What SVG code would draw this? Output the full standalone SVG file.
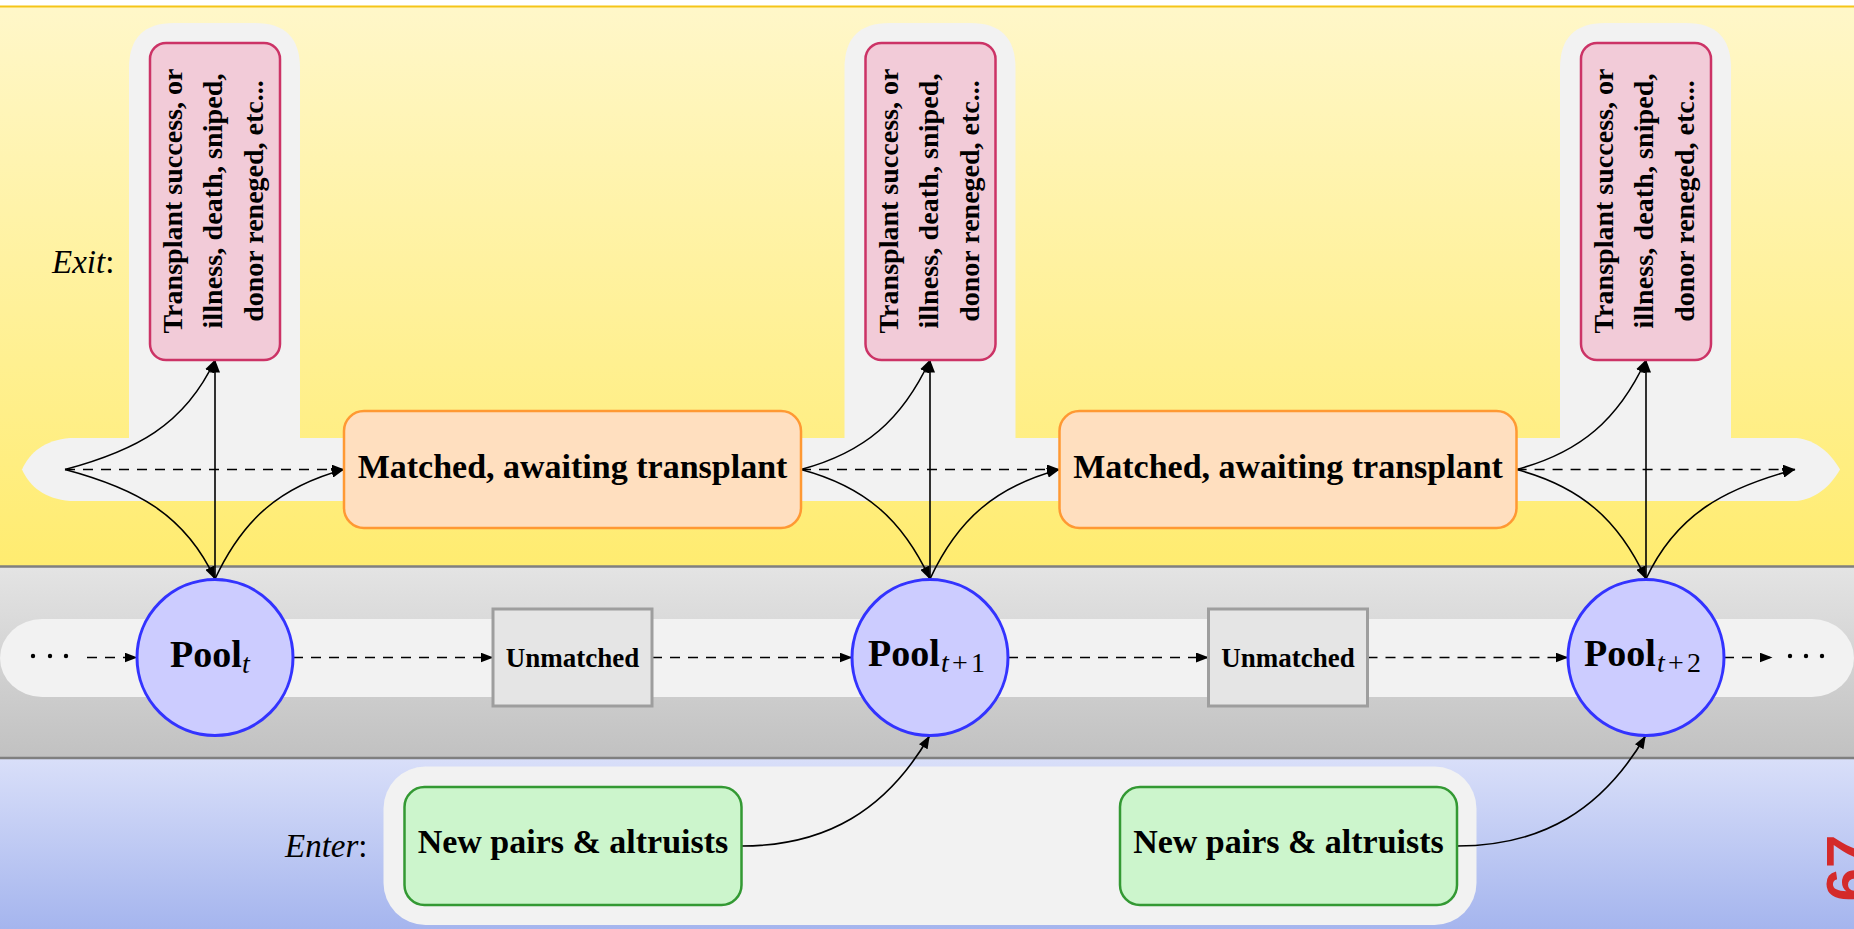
<svg xmlns="http://www.w3.org/2000/svg" width="1854" height="929" viewBox="0 0 1854 929">
  <defs>
    <linearGradient id="gExit" x1="0" y1="0" x2="0" y2="1">
      <stop offset="0" stop-color="#fff7c9"/>
      <stop offset="1" stop-color="#ffec70"/>
    </linearGradient>
    <linearGradient id="gPool" x1="0" y1="0" x2="0" y2="1">
      <stop offset="0" stop-color="#e4e4e4"/>
      <stop offset="1" stop-color="#c1c1c1"/>
    </linearGradient>
    <linearGradient id="gEnter" x1="0" y1="0" x2="0" y2="1">
      <stop offset="0" stop-color="#d9dff9"/>
      <stop offset="1" stop-color="#a5b5ee"/>
    </linearGradient>
    <marker id="arr" viewBox="0 0 13 10" markerWidth="13" markerHeight="10" refX="12.5" refY="5" orient="auto" markerUnits="userSpaceOnUse">
      <path d="M0,0 L13,5 L0,10 Z" fill="#000"/>
    </marker>
    <style>
      .lane { fill: #f2f2f2; }
      .exitbox { fill: #f2cbd8; stroke: #cc3366; stroke-width: 2.5; }
      .matched { fill: #ffdfbf; stroke: #ff9933; stroke-width: 2.5; }
      .newbox { fill: #ccf5cc; stroke: #339933; stroke-width: 2.5; }
      .pool { fill: #ccccff; stroke: #3333ff; stroke-width: 3; }
      .unmatched { fill: #e5e5e5; stroke: #9e9e9e; stroke-width: 3; }
      .bold { font-family: "Liberation Serif", "Times New Roman", serif; font-weight: bold; fill: #000; }
      .label { font-family: "Liberation Serif", "Times New Roman", serif; font-size: 33px; fill: #000; }
      .exittext { font-size: 28px; text-anchor: middle; }
      .big { font-size: 34px; text-anchor: middle; }
      .sub { font-family: "Liberation Serif", "Times New Roman", serif; font-size: 28px; fill: #000; }
      .solid { fill: none; stroke: #000; stroke-width: 1.6; marker-end: url(#arr); }
      .dash { fill: none; stroke: #000; stroke-width: 1.6; stroke-dasharray: 10 8; marker-end: url(#arr); }
    </style>
  </defs>

  <!-- background bands -->
  <rect x="0" y="0" width="1854" height="929" fill="#ffffff"/>
  <rect x="0" y="7" width="1854" height="559" fill="url(#gExit)"/>
  <line x1="0" y1="6.5" x2="1854" y2="6.5" stroke="#f5c518" stroke-width="2"/>
  <rect x="0" y="566" width="1854" height="192" fill="url(#gPool)"/>
  <rect x="0" y="758" width="1854" height="171" fill="url(#gEnter)"/>
  <line x1="0" y1="566.5" x2="1854" y2="566.5" stroke="#7f7f7f" stroke-width="2.5"/>
  <line x1="0" y1="758" x2="1854" y2="758" stroke="#7f7f7f" stroke-width="2.5"/>

  <!-- lanes -->
  <g id="lanes">
    <path class="lane" d="M70,438 H1797 C1815,440 1830,452 1840,469.5 C1830,487 1815,499 1797,501 H70 C45,499 30,487 22,469.5 C30,452 45,440 70,438 Z"/>
    <path class="lane" d="M129,440 V68 Q129,23 174,23 H255 Q300,23 300,68 V440 Z"/>
    <path class="lane" d="M844.5,440 V68 Q844.5,23 889.5,23 H970.5 Q1015.5,23 1015.5,68 V440 Z"/>
    <path class="lane" d="M1560,440 V68 Q1560,23 1605,23 H1686 Q1731,23 1731,68 V440 Z"/>
    <rect class="lane" x="0" y="619" width="1854" height="78" rx="42" ry="39"/>
    <rect class="lane" x="383.5" y="766.5" width="1093" height="158.5" rx="42"/>
  </g>

  <!-- row labels -->
  <text class="label" x="52" y="273"><tspan font-style="italic">Exit</tspan>:</text>
  <text class="label" x="285" y="857"><tspan font-style="italic">Enter</tspan>:</text>

  <!-- connectors -->
  <g id="connectors">
    <!-- exit row, period t -->
    <path class="dash" d="M65,469.5 H344"/>
    <path class="solid" d="M65,469.5 C134.9,450.8 184.4,425.6 215,360"/>
    <path class="solid" d="M65,469.5 C134.9,488.2 184.4,513.4 215,579"/>
    <path class="solid" d="M215,579 V360"/>
    <path class="solid" d="M215,579 C242.9,519.2 280.2,486.6 344,469.5"/>
    <!-- exit row, period t+1 -->
    <path class="dash" d="M801,469.5 H1059.5"/>
    <path class="solid" d="M801,469.5 C864.8,452.4 902.1,419.8 930,360"/>
    <path class="solid" d="M801,469.5 C864.8,486.6 902.1,519.2 930,579"/>
    <path class="solid" d="M930,579 V360"/>
    <path class="solid" d="M930,579 C957.9,519.2 995.7,486.6 1059.5,469.5"/>
    <!-- exit row, period t+2 -->
    <path class="dash" d="M1516.6,469.5 H1795"/>
    <path class="solid" d="M1516.6,469.5 C1580.4,452.4 1618.1,419.8 1646,360"/>
    <path class="solid" d="M1516.6,469.5 C1580.4,486.6 1618.1,519.2 1646,579"/>
    <path class="solid" d="M1646,579 V360"/>
    <path class="solid" d="M1646,579 C1676.4,513.7 1725.4,488.2 1795,469.5"/>
    <!-- pool row -->
    <path class="dash" d="M87,657.5 H137"/>
    <path class="dash" d="M293,657.5 H493"/>
    <path class="dash" d="M652,657.5 H852"/>
    <path class="dash" d="M1008,657.5 H1208.5"/>
    <path class="dash" d="M1367.5,657.5 H1568"/>
    <path class="dash" d="M1724,657.5 H1772"/>
    <!-- arrivals -->
    <path class="solid" d="M741.5,846 C826.5,846 886.5,810 929.5,736"/>
    <path class="solid" d="M1457,846 C1542,846 1602,810 1645.5,736"/>
  </g>

  <!-- continuation dots -->
  <g id="dots" fill="#000">
    <circle cx="33" cy="656" r="2.2"/>
    <circle cx="50" cy="656" r="2.2"/>
    <circle cx="66" cy="656" r="2.2"/>
    <circle cx="1790" cy="656" r="2.2"/>
    <circle cx="1806" cy="656" r="2.2"/>
    <circle cx="1822" cy="656" r="2.2"/>
  </g>

  <!-- exit boxes -->
  <g id="exit-t">
    <rect class="exitbox" x="150" y="43" width="130" height="317" rx="16"/>
    <g transform="translate(215,201) rotate(-90)">
      <text class="bold exittext" x="0" y="-33" textLength="265" lengthAdjust="spacing">Transplant success, or</text>
      <text class="bold exittext" x="0" y="7" textLength="255" lengthAdjust="spacing">illness, death, sniped,</text>
      <text class="bold exittext" x="0" y="48">donor reneged, etc...</text>
    </g>
  </g>
  <g id="exit-t1">
    <rect class="exitbox" x="865.5" y="43" width="130" height="317" rx="16"/>
    <g transform="translate(930.5,201) rotate(-90)">
      <text class="bold exittext" x="0" y="-33" textLength="265" lengthAdjust="spacing">Transplant success, or</text>
      <text class="bold exittext" x="0" y="7" textLength="255" lengthAdjust="spacing">illness, death, sniped,</text>
      <text class="bold exittext" x="0" y="48">donor reneged, etc...</text>
    </g>
  </g>
  <g id="exit-t2">
    <rect class="exitbox" x="1581" y="43" width="130" height="317" rx="16"/>
    <g transform="translate(1646,201) rotate(-90)">
      <text class="bold exittext" x="0" y="-33" textLength="265" lengthAdjust="spacing">Transplant success, or</text>
      <text class="bold exittext" x="0" y="7" textLength="255" lengthAdjust="spacing">illness, death, sniped,</text>
      <text class="bold exittext" x="0" y="48">donor reneged, etc...</text>
    </g>
  </g>

  <!-- matched boxes -->
  <g id="matched-t">
    <rect class="matched" x="344" y="411" width="457" height="117" rx="20"/>
    <text class="bold big" x="572.5" y="478">Matched, awaiting transplant</text>
  </g>
  <g id="matched-t1">
    <rect class="matched" x="1059.5" y="411" width="457" height="117" rx="20"/>
    <text class="bold big" x="1288" y="478">Matched, awaiting transplant</text>
  </g>

  <!-- pools -->
  <g id="pool-t">
    <circle class="pool" cx="215" cy="657.5" r="78"/>
    <text class="bold" font-size="38" x="170" y="667">Pool</text>
    <text class="sub" font-style="italic" x="242" y="673">t</text>
  </g>
  <g id="pool-t1">
    <circle class="pool" cx="930" cy="657.5" r="78"/>
    <text class="bold" font-size="38" x="868" y="666">Pool</text>
    <text class="sub" y="672"><tspan font-style="italic" x="941">t</tspan><tspan x="952">+</tspan><tspan x="971">1</tspan></text>
  </g>
  <g id="pool-t2">
    <circle class="pool" cx="1646" cy="657.5" r="78"/>
    <text class="bold" font-size="38" x="1584" y="666">Pool</text>
    <text class="sub" y="672"><tspan font-style="italic" x="1657">t</tspan><tspan x="1668">+</tspan><tspan x="1687">2</tspan></text>
  </g>

  <!-- unmatched boxes -->
  <g id="unmatched-t">
    <rect class="unmatched" x="493" y="609" width="159" height="97"/>
    <text class="bold" font-size="27" text-anchor="middle" x="572.5" y="667">Unmatched</text>
  </g>
  <g id="unmatched-t1">
    <rect class="unmatched" x="1208.5" y="609" width="159" height="97"/>
    <text class="bold" font-size="27" text-anchor="middle" x="1288" y="667">Unmatched</text>
  </g>

  <!-- arrivals -->
  <g id="new-t">
    <rect class="newbox" x="404.5" y="787" width="337" height="118" rx="20"/>
    <text class="bold big" x="573" y="853">New pairs &amp; altruists</text>
  </g>
  <g id="new-t1">
    <rect class="newbox" x="1120" y="787" width="337" height="118" rx="20"/>
    <text class="bold big" x="1288.5" y="853">New pairs &amp; altruists</text>
  </g>

  <!-- page number -->
  <text x="1868" y="868" transform="rotate(-90 1868 868)" text-anchor="middle" font-family="Liberation Sans, Arial, sans-serif" font-weight="bold" font-size="60" fill="#d42a2a">67</text>
</svg>
